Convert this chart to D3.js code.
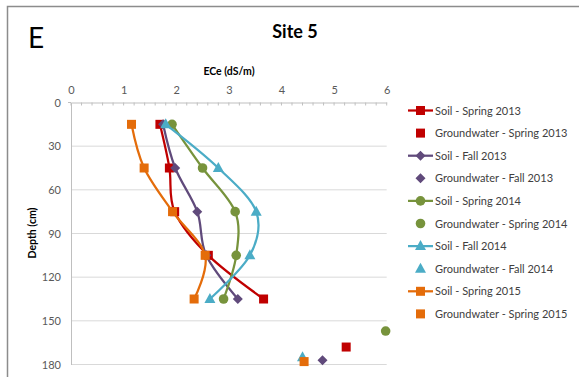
<!DOCTYPE html>
<html><head><meta charset="utf-8">
<script src="https://cdn.jsdelivr.net/npm/d3@7"></script>
<style>body{margin:0;background:#fff;}svg{display:block;}</style>
</head><body>
<svg id="c" width="579" height="377"></svg>
<script>
const depths = [15, 45, 75, 105, 135];
const seriesNames = ["Spring 2013", "Fall 2013", "Spring 2014", "Fall 2014", "Spring 2015"];
const soilSpring2013 = [1.69, 1.87, 1.97, 2.61, 3.66];
const soilFall2013   = [1.75, 1.98, 2.40, 2.57, 3.17];
const soilSpring2014 = [1.92, 2.50, 3.12, 3.14, 2.90];
const soilFall2014   = [1.80, 2.80, 3.52, 3.40, 2.64];
const soilSpring2015 = [1.15, 1.39, 1.93, 2.55, 2.34];
const gwECe   = [5.23, 4.78, 5.98, 4.40, 4.43];
const gwDepth = [168, 177, 157, 175, 178];
const xTicks = [0, 1, 2, 3, 4, 5, 6];
const yTicks = [0, 30, 60, 90, 120, 150, 180];
const colors = ["#c00000", "#604a7b", "#77933c", "#4bacc6", "#e46c0a"];
const shapes = ["square", "diamond", "circle", "triangle", "square"];
const soil = [soilSpring2013, soilFall2013, soilSpring2014, soilFall2014, soilSpring2015];

const svg = d3.select("#c");
const font = "Lato, 'Open Sans', sans-serif";
const x = d3.scaleLinear().domain([0, 6]).range([71, 386.7]);
const y = d3.scaleLinear().domain([0, 180]).range([102.5, 364.5]);

// outer border
svg.append("rect").attr("x", 7.5).attr("y", 6.5).attr("width", 600).attr("height", 400)
  .attr("fill", "none").attr("stroke", "#8c8c8c").attr("stroke-width", 1.5);

svg.append("text").attr("x", 28).attr("y", 48).text("E")
  .attr("font-family", font).attr("font-size", 28).attr("fill", "#000");
svg.append("text").attr("x", 295).attr("y", 38).attr("text-anchor", "middle").text("Site 5")
  .attr("font-family", font).attr("font-size", 18).attr("font-weight", "bold").attr("fill", "#000");
svg.append("text").attr("x", 229).attr("y", 75).attr("text-anchor", "middle").text("ECe (dS/m)")
  .attr("font-family", font).attr("font-size", 10.5).attr("font-weight", "bold").attr("fill", "#000");
svg.append("text").attr("transform", "translate(36,233) rotate(-90)").attr("text-anchor", "middle")
  .text("Depth (cm)").attr("font-family", font).attr("font-size", 10.5).attr("font-weight", "bold").attr("fill", "#000");

// gridlines
svg.append("g").selectAll("line").data(yTicks.slice(1)).join("line")
  .attr("x1", x(0)).attr("x2", x(6)).attr("y1", d => y(d)).attr("y2", d => y(d))
  .attr("stroke", "#d9d9d9").attr("stroke-width", 1);

// top axis
const xAxis = d3.axisTop(x).tickValues(xTicks).tickSize(0).tickPadding(9).tickFormat(d3.format("d"));
const gx = svg.append("g").attr("transform", `translate(0,${y(0)})`).call(xAxis);
gx.select(".domain").attr("stroke", "#bfbfbf");
gx.selectAll("text").attr("font-family", font).attr("font-size", 11).attr("fill", "#595959");
const minor = d3.range(0, 6.01, 0.2);
svg.append("g").selectAll("line").data(minor).join("line")
  .attr("x1", d => x(d)).attr("x2", d => x(d)).attr("y1", y(0)).attr("y2", y(0) + 3)
  .attr("stroke", "#bfbfbf");

const yAxis = d3.axisLeft(y).tickValues(yTicks).tickSize(0).tickPadding(10);
const gy = svg.append("g").attr("transform", `translate(${x(0)},0)`).call(yAxis);
gy.select(".domain").attr("stroke", "#bfbfbf");
gy.selectAll("text").attr("font-family", font).attr("font-size", 11).attr("fill", "#595959");
svg.append("line").attr("x1", x(0) - 3).attr("x2", x(0)).attr("y1", y(0)).attr("y2", y(0)).attr("stroke", "#bfbfbf");

function marker(g, shape, color, cx, cy) {
  if (shape === "square") g.append("rect").attr("x", cx - 4.5).attr("y", cy - 4.5).attr("width", 9).attr("height", 9).attr("fill", color);
  else if (shape === "circle") g.append("circle").attr("cx", cx).attr("cy", cy).attr("r", 4.8).attr("fill", color);
  else if (shape === "diamond") g.append("path").attr("d", `M${cx},${cy-5}L${cx+5},${cy}L${cx},${cy+5}L${cx-5},${cy}Z`).attr("fill", color);
  else if (shape === "triangle") g.append("path").attr("d", `M${cx},${cy-6}L${cx+5.5},${cy+4}L${cx-5.5},${cy+4}Z`).attr("fill", color);
}

const line = d3.line().x(d => x(d[0])).y(d => y(d[1])).curve(d3.curveCardinal.tension(0));
const plot = svg.append("g");
soil.forEach((vals, i) => {
  const pts = vals.map((v, j) => [v, depths[j]]);
  plot.append("path").attr("d", line(pts)).attr("fill", "none").attr("stroke", colors[i]).attr("stroke-width", 2.25);
  pts.forEach(p => marker(plot, shapes[i], colors[i], x(p[0]), y(p[1])));
  marker(plot, shapes[i], colors[i], x(gwECe[i]), y(gwDepth[i]));
});

// legend
const legY0 = 110.5, legStep = 22.6;
seriesNames.forEach((name, i) => {
  const ya = legY0 + legStep * (2 * i), yb = legY0 + legStep * (2 * i + 1);
  svg.append("line").attr("x1", 408).attr("x2", 433).attr("y1", ya).attr("y2", ya).attr("stroke", colors[i]).attr("stroke-width", 2.25);
  marker(svg, shapes[i], colors[i], 420.5, ya);
  svg.append("text").attr("x", 435).attr("y", ya + 4).text("Soil - " + name)
    .attr("font-family", font).attr("font-size", 11).attr("fill", "#404040");
  marker(svg, shapes[i], colors[i], 420.5, yb);
  svg.append("text").attr("x", 435).attr("y", yb + 4).text("Groundwater - " + name)
    .attr("font-family", font).attr("font-size", 11).attr("fill", "#404040");
});
</script>
</body></html>
